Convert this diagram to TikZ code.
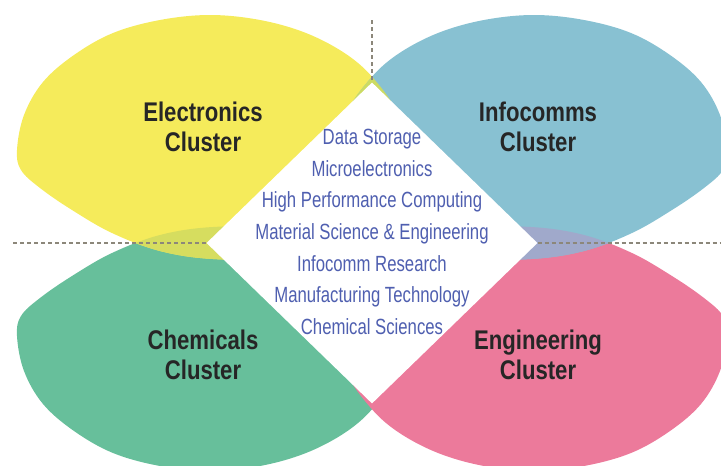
\documentclass[tikz,border=0pt]{standalone}
\usepackage{fontspec}
\setmainfont{Liberation Sans}
\newfontfamily\clusterfont{Liberation Sans}[FakeStretch=0.82]
\newfontfamily\areafont{Liberation Sans}[FakeStretch=0.76]
\usetikzlibrary{shapes.geometric}

\definecolor{elecyellow}{HTML}{F5EB5B}
\definecolor{infoblue}{HTML}{88C1D2}
\definecolor{chemgreen}{HTML}{67BF9B}
\definecolor{engipink}{HTML}{EC7A9B}
\definecolor{yellowgreen}{HTML}{D6DD5F}
\definecolor{yellowblue}{HTML}{CCDB62}
\definecolor{bluepink}{HTML}{A0A9CB}
\definecolor{areablue}{HTML}{4F5FB0}
\definecolor{guide}{HTML}{8C877A}

% one cluster outline in pixel units (upper left), the others are mirrored
\newcommand{\petal}{plot[smooth cycle, tension=0.6] coordinates {(17,150) (24,115) (43,82) (74,55) (113,33) (160,20) (210,15) (260,20) (306,33) (346,54) (374,79) (398,115) (405,160) (390,205) (345,240) (280,258) (213,259) (160,251) (112,233) (72,210) (40,188) (21,170)}}

\tikzset{
  flipx/.style={shift={(744,0)}, xscale=-1},
  flipy/.style={shift={(0,486)}, yscale=-1},
  cluster/.style={font=\clusterfont\bfseries\fontsize{27}{30}\selectfont, text=black!85, align=center},
  areas/.style={font=\areafont\fontsize{22}{31.7}\selectfont, text=areablue, align=center},
  guideline/.style={guide, line width=1.3pt, dash pattern=on 4pt off 3pt}
}

\begin{document}
\begin{tikzpicture}[x=1pt, y=-1pt]
  \useasboundingbox (0,0) rectangle (721,466);

  % the four clusters
  \begin{scope}[flipy]
    \fill[chemgreen] \petal;
  \end{scope}
  \begin{scope}[flipx, flipy]
    \fill[engipink] \petal;
  \end{scope}
  \fill[elecyellow] \petal;
  \begin{scope}[flipx]
    \fill[infoblue] \petal;
  \end{scope}

  % where they overlap
  \begin{scope}
    \clip \petal;
    \begin{scope}[flipy]
      \fill[yellowgreen] \petal;
    \end{scope}
    \begin{scope}[flipx]
      \fill[yellowblue] \petal;
    \end{scope}
  \end{scope}
  \begin{scope}[flipx]
    \clip \petal;
    \begin{scope}[flipy]
      \fill[bluepink] \petal;
    \end{scope}
  \end{scope}

  % research areas in the middle
  \node[diamond, fill=white, inner sep=0pt, minimum width=331pt, minimum height=321pt] (core) at (372,243) {};
  \node[areas] (areas) at (372,232) {Data Storage\\Microelectronics\\High Performance Computing\\Material Science \& Engineering\\Infocomm Research\\Manufacturing Technology\\Chemical Sciences};

  \coordinate (guideW) at (13,243);
  \coordinate (guideE) at (721,243);
  \coordinate (guideN) at (372,20);
  \draw[guideline] (guideW) -- (core.west);
  \draw[guideline] (core.east) -- (guideE);
  \draw[guideline] (guideN) -- (core.north);

  \foreach \n/\x/\y/\t in {elec/203/127/Electronics, info/538/127/Infocomms, chem/203/355/Chemicals, engi/538/355/Engineering}
    \node[cluster] (\n) at (\x,\y) {\t\\Cluster};
\end{tikzpicture}
\end{document}
